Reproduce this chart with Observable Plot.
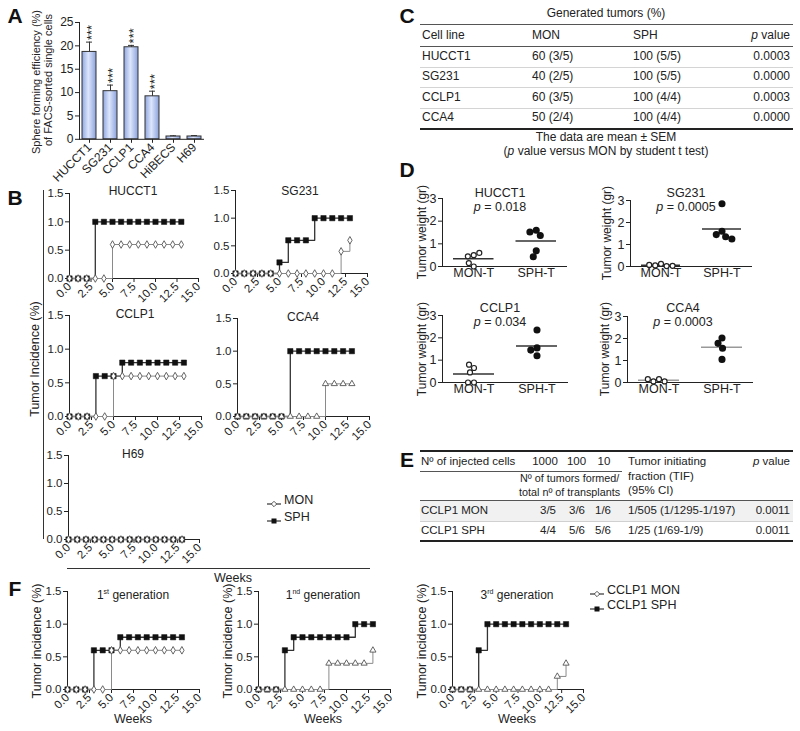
<!DOCTYPE html>
<html><head><meta charset="utf-8">
<script src="https://cdn.jsdelivr.net/npm/d3@7"></script>
<script src="https://cdn.jsdelivr.net/npm/@observablehq/plot@0.6"></script>
<style>
body{margin:0;background:#fff;}
#root{position:relative;width:800px;height:731px;overflow:hidden;font-family:"Liberation Sans",Arial,Helvetica,sans-serif;color:#222;}
</style></head><body>
<svg width="0" height="0" style="position:absolute"><defs>
<linearGradient id="gradA" x1="0" x2="1" y1="0" y2="0">
<stop offset="0" stop-color="#8fa6e0"/><stop offset="0.45" stop-color="#dde6fb"/><stop offset="1" stop-color="#8ba2dc"/>
</linearGradient></defs></svg>
<div id="root"></div>
<script>
// ---------------- DATA ----------------
// Panel A
const cellLinesA = ["HUCCT1","SG231","CCLP1","CCA4","HiBECS","H69"];
const sphereEff  = [18.7, 10.3, 19.7, 9.2, 0.6, 0.6];
const sphereErr  = [2.1, 1.3, 0.4, 1.1, 0.15, 0.2];
const sigA       = ["***","***","***","***","",""];
const ticksA     = [0,5,10,15,20,25];

// Panel B (tumor incidence per week)
const weeks = [0,1,2,3,4,5,6,7,8,9,10,11,12,13];
const weekTicks = [0,2.5,5,7.5,10,12.5,15];
const incidenceTicks = [0,0.5,1,1.5];
const hucct1Mon = [0,0,0,0,0,0.6,0.6,0.6,0.6,0.6,0.6,0.6,0.6,0.6];
const hucct1Sph = [0,0,0,1,1,1,1,1,1,1,1,1,1,1];
const sg231Mon  = [0,0,0,0,0,0,0,0,0,0,0,0,0.4,0.6];
const sg231Sph  = [0,0,0,0,0,0.2,0.6,0.6,0.6,1,1,1,1,1];
const cclp1Mon  = [0,0,0,0,0,0.6,0.6,0.6,0.6,0.6,0.6,0.6,0.6,0.6];
const cclp1Sph  = [0,0,0,0.6,0.6,0.6,0.8,0.8,0.8,0.8,0.8,0.8,0.8,0.8];
const cca4Mon   = [0,0,0,0,0,0,0,0,0,0,0.5,0.5,0.5,0.5];
const cca4Sph   = [0,0,0,0,0,0,1,1,1,1,1,1,1,1];
const h69Mon    = [0,0,0,0,0,0,0,0,0,0,0,0,0,0];
const h69Sph    = [0,0,0,0,0,0,0,0,0,0,0,0,0,0];
const seriesNamesB = ["MON","SPH"];

// Panel C
const tableCHeader = ["Cell line","MON","SPH","<i>p</i> value"];
const tableCLines = ["HUCCT1","SG231","CCLP1","CCA4"];
const tableCMon   = ["60 (3/5)","40 (2/5)","60 (3/5)","50 (2/4)"];
const tableCSph   = ["100 (5/5)","100 (5/5)","100 (4/4)","100 (4/4)"];
const tableCP     = ["0.0003","0.0000","0.0003","0.0000"];

// Panel D (tumor weight, gr)
const groupsD = ["MON-T","SPH-T"];
const weightTicks = [0,1,2,3];
const dHucct1Mon = [0.5, 0.45, 0.6, 0.0, 0.15];
const dHucct1Sph = [1.6, 1.52, 1.37, 0.69, 0.43];
const dSg231Mon  = [0.12, 0.05, 0.02, 0.03, 0.07];
const dSg231Sph  = [2.85, 1.6, 1.45, 1.35, 1.25];
const dCclp1Mon  = [0.65, 0.8, 0.45, 0.0, 0.0];
const dCclp1Sph  = [2.35, 1.55, 1.45, 1.2];
const dCca4Mon   = [0.15, 0.05, 0.05, 0.15];
const dCca4Sph   = [2.02, 1.78, 1.56, 1.05];
const pValuesD   = ["0.018","0.0005","0.034","0.0003"];

// Panel E
const injectedCells = ["1000","100","10"];
const rowsE   = ["CCLP1 MON","CCLP1 SPH"];
const tumorsE = [["3/5","3/6","1/6"],["4/4","5/6","5/6"]];
const tifE    = ["1/505 (1/1295-1/197)","1/25 (1/69-1/9)"];
const pE      = ["0.0011","0.0011"];

// Panel F
const f1Mon = [0,0,0,0,0,0.6,0.6,0.6,0.6,0.6,0.6,0.6,0.6,0.6];
const f1Sph = [0,0,0,0.6,0.6,0.6,0.8,0.8,0.8,0.8,0.8,0.8,0.8,0.8];
const f2Mon = [0,0,0,0,0,0,0,0,0.4,0.4,0.4,0.4,0.4,0.6];
const f2Sph = [0,0,0,0.6,0.8,0.8,0.8,0.8,0.8,0.8,0.8,1,1,1];
const f3Mon = [0,0,0,0,0,0,0,0,0,0,0,0,0.2,0.4];
const f3Sph = [0,0,0,0.6,1,1,1,1,1,1,1,1,1,1];
const seriesNamesF = ["CCLP1 MON","CCLP1 SPH"];

// ---------------- HELPERS ----------------
const FONT = '"Liberation Sans", Arial, Helvetica, sans-serif';
const root = document.getElementById("root");
const plotStyle = fs => ({fontFamily: FONT, fontSize: fs, color: "#222", background: "transparent", overflow: "visible"});
function put(el, x, y){ el.style.position="absolute"; el.style.left=x+"px"; el.style.top=y+"px"; root.appendChild(el); return el; }
function txt(html, x, y, o={}){
  const {size=12, anchor="middle", rotate=0, weight="normal", color="#222"} = o;
  const d = document.createElement("div");
  d.innerHTML = html;
  d.style.cssText = `position:absolute;left:${x}px;top:${y}px;white-space:nowrap;font-size:${size}px;font-weight:${weight};color:${color};line-height:1.15;`;
  const tx = anchor==="start" ? "0%" : anchor==="end" ? "-100%" : "-50%";
  d.style.transform = `translate(${tx},-50%)` + (rotate ? ` rotate(${rotate}deg)` : "");
  root.appendChild(d); return d;
}
function rule(x, y, w, h, color){
  const d = document.createElement("div");
  d.style.cssText = `position:absolute;left:${x}px;top:${y}px;width:${w}px;height:${h}px;background:${color};`;
  root.appendChild(d); return d;
}
function legendItem(x, y, symbol, label){
  const s = symbol === "square"
    ? '<rect x="4.5" y="2.5" width="5" height="5" fill="#111"/>'
    : '<path d="M7,2.3L9.7,5L7,7.7L4.3,5Z" fill="#fff" stroke="#444" stroke-width="0.9"/>';
  const d = document.createElement("div");
  d.style.cssText = `position:absolute;left:${x}px;top:${y-5}px;width:14px;height:10px;`;
  d.innerHTML = `<svg width="14" height="10"><line x1="0" x2="14" y1="5" y2="5" stroke="#333" stroke-width="1.2"/>${s}</svg>`;
  root.appendChild(d);
  txt(label, x+17, y, {anchor:"start", size:12.5});
}

// ---------------- PANEL LETTERS ----------------
[["A",15,16],["B",15,198],["C",407,16],["D",407,170],["E",407,460],["F",15,589]].forEach(([l,x,y]) =>
  txt(l, x, y, {size:21, weight:"bold", color:"#111"}));

// ---------------- PANEL A ----------------
{
  const dataA = cellLinesA.map((c,i) => ({cell:c, eff:sphereEff[i], hi:sphereEff[i]+sphereErr[i], sig:sigA[i]}));
  const x0=79, x1=204, y0=21.7, y1=138.5, ml=40, mr=8, mt=22, mb=52;
  const chart = Plot.plot({
    width: ml+(x1-x0)+mr, height: mt+(y1-y0)+mb,
    marginLeft: ml, marginRight: mr, marginTop: mt, marginBottom: mb,
    style: plotStyle("12px"),
    x: {domain: cellLinesA, paddingInner: 0.32, paddingOuter: 0.12, tickRotate: -45, tickSize: 4, tickPadding: 2, label: null},
    y: {domain: [0,25], ticks: ticksA, tickFormat: d3.format("d"), tickSize: 4, tickPadding: 2, label: null},
    marks: [
      Plot.barY(dataA, {x:"cell", y:"eff", fill:"url(#gradA)", stroke:"#333", strokeWidth:1}),
      Plot.ruleX(dataA, {x:"cell", y1:"eff", y2:"hi", stroke:"#333"}),
      Plot.tickY(dataA, {x:"cell", y:"hi", stroke:"#333", insetLeft:4, insetRight:4}),
      Plot.text(dataA.filter(d => d.sig), {x:"cell", y:"hi", text:"sig", rotate:-90, textAnchor:"start", dy:-2, dx:2, fontSize:13}),
      Plot.frame({anchor:"left", stroke:"#222"}),
      Plot.ruleY([0], {stroke:"#222"})
    ]
  });
  put(chart, x0-ml, y0-mt);
  txt("Sphere forming efficiency (%)", 36, 82, {size:11, rotate:-90});
  txt("of FACS-sorted single cells", 48, 80, {size:11, rotate:-90});
}

// ---------------- STEP CHARTS (B, F) ----------------
function stepChart(monVals, sphVals, monSymbol, [x0,x1,y0,y1]){
  const ml=42, mr=14, mt=6, mb=38;
  const mon = weeks.map((w,i) => ({w, v: monVals[i]}));
  const sph = weeks.map((w,i) => ({w, v: sphVals[i]}));
  const chart = Plot.plot({
    width: ml+(x1-x0)+mr, height: mt+(y1-y0)+mb,
    marginLeft: ml, marginRight: mr, marginTop: mt, marginBottom: mb,
    style: plotStyle("11.5px"),
    x: {domain:[0,15], ticks: weekTicks, tickFormat: d3.format(".1f"), tickRotate:-45, tickSize:4, tickPadding:2, label:null},
    y: {domain:[0,1.5], ticks: incidenceTicks, tickFormat: d3.format(".1f"), tickSize:4, tickPadding:2, label:null},
    marks: [
      Plot.ruleX([0], {stroke:"#222"}),
      Plot.ruleY([0], {stroke:"#222"}),
      Plot.line(sph, {x:"w", y:"v", curve:"step-after", stroke:"#333", strokeWidth:1.3}),
      Plot.line(mon, {x:"w", y:"v", curve:"step-after", stroke:"#8a8a8a", strokeWidth:1}),
      Plot.dot(sph, {x:"w", y:"v", symbol:"square", r:3, fill:"#111", stroke:"#111", strokeWidth:0.5}),
      Plot.dot(mon, {x:"w", y:"v", symbol:monSymbol, r:2.3, fill:"#fff", stroke:"#555", strokeWidth:0.9})
    ]
  });
  put(chart, x0-ml, y0-mt);
}

// Panel B
const chartsB = [
  {title:"HUCCT1", mon:hucct1Mon, sph:hucct1Sph, sym:"diamond",  frame:[69,198,193,278], tx:133, ty:192},
  {title:"SG231",  mon:sg231Mon,  sph:sg231Sph,  sym:"diamond",  frame:[235,367,190,273], tx:300, ty:192},
  {title:"CCLP1",  mon:cclp1Mon,  sph:cclp1Sph,  sym:"diamond",  frame:[69,201,315,416], tx:135, ty:315},
  {title:"CCA4",   mon:cca4Mon,   sph:cca4Sph,   sym:"triangle", frame:[237,369,318,416], tx:303, ty:318},
  {title:"H69",    mon:h69Mon,    sph:h69Sph,    sym:"diamond",  frame:[68,199,455,539], tx:133, ty:455}
];
chartsB.forEach(c => { stepChart(c.mon, c.sph, c.sym, c.frame); txt(c.title, c.tx, c.ty, {size:12}); });
rule(43, 190, 1.2, 349, "#333");
txt("Tumor Incidence (%)", 35, 359, {size:12.5, rotate:-90});
rule(67, 568, 303, 1.2, "#333");
txt("Weeks", 233, 578, {size:12.5});
legendItem(267, 500, "diamond", seriesNamesB[0]);
legendItem(267, 517, "square", seriesNamesB[1]);

// Panel F
const chartsF = [
  {title:"1<sup style='font-size:7px'>st</sup> generation", mon:f1Mon, sph:f1Sph, sym:"diamond",  frame:[67,199,591,689], cx:133, lx:37},
  {title:"1<sup style='font-size:7px'>nd</sup> generation", mon:f2Mon, sph:f2Sph, sym:"triangle", frame:[258,390,591,689], cx:323, lx:228},
  {title:"3<sup style='font-size:7px'>rd</sup> generation", mon:f3Mon, sph:f3Sph, sym:"triangle", frame:[452,583,591,689], cx:517, lx:422}
];
chartsF.forEach(c => {
  stepChart(c.mon, c.sph, c.sym, c.frame);
  txt(c.title, c.cx, 595, {size:12});
  txt("Weeks", c.cx, 719, {size:12.5});
  txt("Tumor incidence (%)", c.lx, 641, {size:12.5, rotate:-90});
});
legendItem(590, 590, "diamond", seriesNamesF[0]);
legendItem(590, 605, "square", seriesNamesF[1]);

// ---------------- PANEL C (table) ----------------
{
  const colX = [422, 532, 633, 790];
  txt("Generated tumors (%)", 606, 14, {size:12});
  rule(420, 24, 373, 1, "#555");
  tableCHeader.forEach((h,j) => txt(h, colX[j], 36, {anchor: j===3 ? "end" : "start"}));
  rule(420, 46, 373, 1, "#555");
  tableCLines.forEach((name,i) => {
    const y = 57 + i*20.3;
    [name, tableCMon[i], tableCSph[i], tableCP[i]].forEach((v,j) => txt(v, colX[j], y, {anchor: j===3 ? "end" : "start"}));
    if (i < tableCLines.length-1) rule(420, y+10, 373, 1, "#d4d4d4");
  });
  rule(420, 127.5, 373, 2, "#222");
  txt("The data are mean ± SEM", 606, 138, {size:12});
  txt("(<i>p</i> value versus MON by student t test)", 606, 152, {size:12});
}

// ---------------- PANEL D (dot plots) ----------------
function dotChart(mon, sph, meanColor, [x0,x1,y0,y1]){
  const ml=30, mr=8, mt=4, mb=22, w=x1-x0, q=w/4;
  const chart = Plot.plot({
    width: ml+w+mr, height: mt+(y1-y0)+mb,
    marginLeft: ml, marginRight: mr, marginTop: mt, marginBottom: mb,
    style: plotStyle("12.5px"),
    y: {domain:[0,3], ticks: weightTicks, tickFormat: d3.format("d"), tickSize:4, tickPadding:2, label:null},
    marks: [
      Plot.frame({anchor:"left", stroke:"#222"}),
      Plot.ruleY([0], {stroke:"#222"}),
      Plot.ruleY(mon, Plot.groupZ({y:"mean"}, {y: d => d, stroke: meanColor, strokeWidth: 1.5, insetLeft: 11, insetRight: w/2+11})),
      Plot.ruleY(sph, Plot.groupZ({y:"mean"}, {y: d => d, stroke: meanColor, strokeWidth: 1.5, insetLeft: w/2+11, insetRight: 11})),
      Plot.dot(mon, Plot.dodgeX("middle", {y: d => d, r: 2.5, fill:"#fff", stroke:"#222", strokeWidth:1.2, dx: -q})),
      Plot.dot(sph, Plot.dodgeX("middle", {y: d => d, r: 2.8, fill:"#111", stroke:"#111", dx: q})),
      Plot.text([groupsD[0]], {text: d => d, frameAnchor:"bottom", dx: -q, dy: 10, fontSize: 12.5}),
      Plot.text([groupsD[1]], {text: d => d, frameAnchor:"bottom", dx: q, dy: 10, fontSize: 12.5})
    ]
  });
  put(chart, x0-ml, y0-mt);
}
const chartsD = [
  {title:"HUCCT1", mon:dHucct1Mon, sph:dHucct1Sph, p:pValuesD[0], mc:"#333", frame:[442,567,198,266], tx:500, ty:193, lx:423},
  {title:"SG231",  mon:dSg231Mon,  sph:dSg231Sph,  p:pValuesD[1], mc:"#333", frame:[630,752,200,266], tx:686, ty:193, lx:608},
  {title:"CCLP1",  mon:dCclp1Mon,  sph:dCclp1Sph,  p:pValuesD[2], mc:"#333", frame:[442,568,315,382], tx:500, ty:308, lx:423},
  {title:"CCA4",   mon:dCca4Mon,   sph:dCca4Sph,   p:pValuesD[3], mc:"#999", frame:[627,753,316,382], tx:683, ty:308, lx:606}
];
chartsD.forEach(c => {
  dotChart(c.mon, c.sph, c.mc, c.frame);
  txt(c.title, c.tx, c.ty, {size:12.5});
  txt(`<i>p</i> = ${c.p}`, c.tx, c.ty+14, {size:12.5});
  txt("Tumor weight (gr)", c.lx, (c.frame[2]+c.frame[3])/2, {size:12, rotate:-90});
});

// ---------------- PANEL E (table) ----------------
{
  const fs = 11.5;
  const cellCx = [545, 576.5, 604];
  const valCx = [548, 577, 603];
  rule(420, 450, 373, 2, "#222");
  txt("Nº of injected cells", 421, 462, {anchor:"start", size:fs});
  injectedCells.forEach((v,j) => txt(v, cellCx[j], 462, {size:fs}));
  rule(420, 471, 202, 1, "#555");
  txt("Nº of tumors formed/", 520, 478, {anchor:"start", size:10.8});
  txt("total nº of transplants", 519, 492, {anchor:"start", size:10.8});
  txt("Tumor initiating", 628, 462, {anchor:"start", size:fs});
  txt("fraction (TIF)", 628, 477, {anchor:"start", size:fs});
  txt("(95% CI)", 628, 491, {anchor:"start", size:fs});
  txt("<i>p</i> value", 790, 462, {anchor:"end", size:fs});
  rule(420, 499.5, 373, 1, "#555");
  rule(420, 500.5, 373, 20, "#f1f1f1");
  rowsE.forEach((name,i) => {
    const y = 511 + i*20;
    txt(name, 421, y, {anchor:"start", size:fs});
    tumorsE[i].forEach((v,j) => txt(v, valCx[j], y, {size:fs}));
    txt(tifE[i], 628, y, {anchor:"start", size:fs});
    txt(pE[i], 790, y, {anchor:"end", size:fs});
  });
  rule(420, 520.5, 373, 1, "#d0d0d0");
  rule(420, 540, 373, 2, "#222");
}
</script>
</body></html>
